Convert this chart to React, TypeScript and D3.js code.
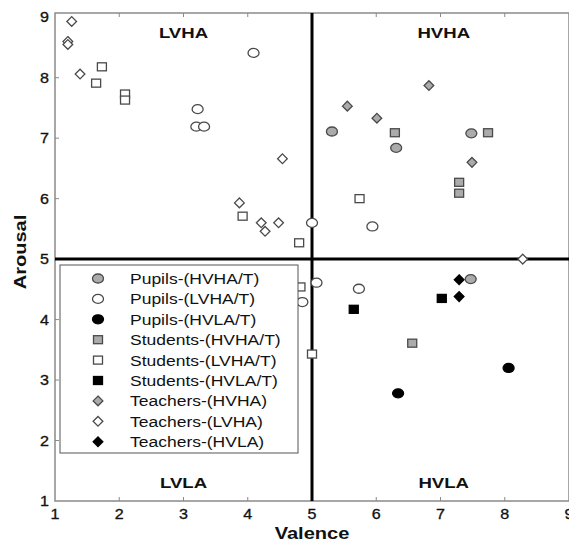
import React from "react";
import * as d3 from "d3";

// valence / arousal points per group
const pupilsHVHA = [[5.31, 7.11], [6.31, 6.84], [7.48, 7.08], [7.47, 4.67]];
const pupilsLVHA = [[3.22, 7.48], [3.2, 7.19], [3.32, 7.19], [4.09, 8.41], [5.0, 5.6], [5.94, 5.54], [5.07, 4.61], [4.85, 4.29], [5.73, 4.51]];
const pupilsHVLA = [[6.34, 2.78], [8.06, 3.2]];
const studentsHVHA = [[6.29, 7.09], [7.74, 7.09], [7.29, 6.27], [7.29, 6.09], [6.56, 3.61]];
const studentsLVHA = [[1.73, 8.18], [1.64, 7.91], [2.09, 7.73], [2.09, 7.63], [3.92, 5.71], [4.8, 5.27], [5.74, 6.0], [4.82, 4.54], [5.0, 3.43]];
const studentsHVLA = [[5.65, 4.17], [7.02, 4.35]];
const teachersHVHA = [[5.55, 7.53], [6.01, 7.33], [6.82, 7.87], [7.49, 6.6]];
const teachersLVHA = [[1.26, 8.93], [1.2, 8.6], [1.2, 8.55], [1.39, 8.06], [4.54, 6.66], [3.87, 5.93], [4.21, 5.6], [4.27, 5.46], [4.48, 5.6], [8.28, 5.0]];
const teachersHVLA = [[7.29, 4.66], [7.29, 4.38]];

const xTicks = [1, 2, 3, 4, 5, 6, 7, 8, 9];
const yTicks = [1, 2, 3, 4, 5, 6, 7, 8, 9];

const series = [
  { name: "Pupils-(HVHA/T)", data: pupilsHVHA, shape: "circle", fill: "#ababab" },
  { name: "Pupils-(LVHA/T)", data: pupilsLVHA, shape: "circle", fill: "#fff" },
  { name: "Pupils-(HVLA/T)", data: pupilsHVLA, shape: "circle", fill: "#000" },
  { name: "Students-(HVHA/T)", data: studentsHVHA, shape: "square", fill: "#ababab" },
  { name: "Students-(LVHA/T)", data: studentsLVHA, shape: "square", fill: "#fff" },
  { name: "Students-(HVLA/T)", data: studentsHVLA, shape: "square", fill: "#000" },
  { name: "Teachers-(HVHA)", data: teachersHVHA, shape: "diamond", fill: "#ababab" },
  { name: "Teachers-(LVHA)", data: teachersLVHA, shape: "diamond", fill: "#fff" },
  { name: "Teachers-(HVLA)", data: teachersHVLA, shape: "diamond", fill: "#000" }
];

const quadrants = [
  { label: "LVHA", x: 3, y: 8.75 },
  { label: "HVHA", x: 7.05, y: 8.75 },
  { label: "LVLA", x: 3, y: 1.3 },
  { label: "HVLA", x: 7.05, y: 1.3 }
];

const W = 569;
const H = 542;
const x = d3.scaleLinear().domain([1, 9]).range([55, 569]);
const y = d3.scaleLinear().domain([1, 9.07]).range([501, 13]);

const diamond = d3.symbol().type(d3.symbolDiamond2).size(60)();

const font = "'Liberation Sans', Arial, sans-serif";

// the original figure is stretched sideways a bit, so are its letters
const Txt = ({ x, y, sx = 1.15, rotate = 0, children, ...rest }) => (
  <text transform={`translate(${x},${y}) rotate(${rotate}) scale(${sx},1)`} fill="#111" {...rest}>
    {children}
  </text>
);

function Marker({ shape, fill, cx, cy }) {
  const stroke = fill === "#000" ? "#000" : "#4a4a4a";
  if (shape === "circle")
    return <ellipse cx={cx} cy={cy} rx={5.5} ry={4.5} fill={fill} stroke={stroke} strokeWidth={1.3} />;
  if (shape === "square")
    return <rect x={cx - 4.5} y={cy - 4} width={9} height={8} fill={fill} stroke={stroke} strokeWidth={1.3} />;
  return <path d={diamond} transform={`translate(${cx},${cy})`} fill={fill} stroke={stroke} strokeWidth={1.3} />;
}

export default function App() {
  const [x0, x1] = x.range();
  const [y0, y1] = y.range();
  return (
    <svg width={W} height={H} style={{ position: "absolute", left: 0, top: 0, background: "#fff" }} fontFamily={font}>
      {/* frame */}
      <rect x={x0} y={y1} width={x1 - x0} height={y0 - y1} fill="none" stroke="#8a8a8a" strokeWidth={1.5} />
      {xTicks.slice(1, -1).map(t => (
        <g key={"xt" + t} stroke="#8a8a8a">
          <line x1={x(t)} x2={x(t)} y1={y0} y2={y0 - 4} />
          <line x1={x(t)} x2={x(t)} y1={y1} y2={y1 + 4} />
        </g>
      ))}
      {yTicks.slice(1, -1).map(t => (
        <line key={"yt" + t} x1={x0} x2={x0 + 4} y1={y(t)} y2={y(t)} stroke="#8a8a8a" />
      ))}
      {xTicks.map(t => (
        <Txt key={"xl" + t} x={x(t)} y={519} textAnchor="middle" fontSize={14} stroke="#111" strokeWidth={0.3}>{t}</Txt>
      ))}
      {yTicks.map(t => (
        <Txt key={"yl" + t} x={49} y={y(t) + 5} textAnchor="end" fontSize={14} stroke="#111" strokeWidth={0.3}>{t}</Txt>
      ))}

      {/* quadrant dividers */}
      <line x1={x(5)} x2={x(5)} y1={y1} y2={y0} stroke="#000" strokeWidth={3} />
      <line x1={x0} x2={x1} y1={y(5)} y2={y(5)} stroke="#000" strokeWidth={3} />

      {quadrants.map(q => (
        <Txt key={q.label} x={x(q.x)} y={y(q.y) + 5.5} sx={1.2} textAnchor="middle" fontSize={15.5} fontWeight="bold">{q.label}</Txt>
      ))}

      {series.map(s =>
        s.data.map((d, i) => <Marker key={s.name + i} shape={s.shape} fill={s.fill} cx={x(d[0])} cy={y(d[1])} />)
      )}

      {/* legend */}
      <rect x={60} y={265} width={238} height={188} fill="#fff" stroke="#555" strokeWidth={1} />
      {series.map((s, i) => (
        <g key={"lg" + s.name} transform={`translate(0,${278.5 + i * 20.4})`}>
          <Marker shape={s.shape} fill={s.fill} cx={98} cy={0} />
          <Txt x={130} y={5.5} sx={1.13} fontSize={15.5}>{s.name}</Txt>
        </g>
      ))}

      <Txt x={312} y={539} sx={1.18} textAnchor="middle" fontSize={17} fontWeight="bold">Valence</Txt>
      <Txt x={26} y={252} rotate={-90} sx={1.18} textAnchor="middle" fontSize={17} fontWeight="bold">Arousal</Txt>
    </svg>
  );
}
